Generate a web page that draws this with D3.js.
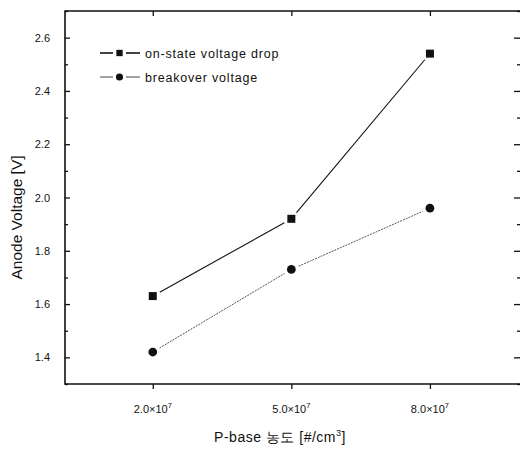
<!DOCTYPE html>
<html>
<head>
<meta charset="utf-8">
<script src="https://cdn.jsdelivr.net/npm/d3@7"></script>
<style>
  body { margin: 0; background: #fff; }
  text { font-family: "Liberation Sans", Arial, sans-serif; fill: #111; }
</style>
</head>
<body>
<div id="chart"></div>
<script>
// data (x in units of 1e7 /cm^3)
const concentrations = [2.0, 5.0, 8.0];
const onStateDrop = [1.63, 1.92, 2.54];
const breakover = [1.42, 1.73, 1.96];
const yTicks = [1.4, 1.6, 1.8, 2.0, 2.2, 2.4, 2.6];
const yMinorTicks = [1.3, 1.5, 1.7, 1.9, 2.1, 2.3, 2.5, 2.7];
const seriesNames = ["on-state voltage drop", "breakover voltage"];

const width = 520, height = 449;
const plotL = 65, plotR = 520, plotT = 11, plotB = 384;

const svg = d3.select("#chart")
    .append("svg")
    .attr("width", width)
    .attr("height", height);

const x = d3.scaleLinear().domain([0.1, 9.95]).range([plotL, plotR]);
const y = d3.scaleLinear().domain([1.3, 2.7]).range([plotB, plotT]);

// frame (right edge falls outside the picture)
svg.append("path")
    .attr("d", `M${plotR},${plotT}H${plotL}V${plotB}H${plotR}`)
    .attr("fill", "none").attr("stroke", "#111").attr("stroke-width", 1.6);

// left axis, ticks inward
svg.append("g").attr("transform", `translate(${plotL},0)`)
    .call(d3.axisRight(y).tickValues(yTicks).tickSize(5).tickFormat(""))
    .select(".domain").remove();
svg.append("g").attr("transform", `translate(${plotL},0)`)
    .call(d3.axisRight(y).tickValues(yMinorTicks).tickSize(3).tickFormat(""))
    .select(".domain").remove();
yTicks.forEach(v => {
    svg.append("text")
        .attr("x", plotL - 15).attr("y", y(v) + 4)
        .attr("text-anchor", "end")
        .attr("font-size", 11)
        .text(v.toFixed(1));
});

// right axis, ticks inward
svg.append("g").attr("transform", `translate(${plotR},0)`)
    .call(d3.axisLeft(y).tickValues(yTicks).tickSize(6).tickFormat(""))
    .select(".domain").remove();
svg.append("g").attr("transform", `translate(${plotR},0)`)
    .call(d3.axisLeft(y).tickValues(yMinorTicks).tickSize(3).tickFormat(""))
    .select(".domain").remove();

// bottom and top axes
svg.append("g").attr("transform", `translate(0,${plotB})`)
    .call(d3.axisBottom(x).tickValues(concentrations).tickSize(5).tickFormat(""))
    .select(".domain").remove();
svg.append("g").attr("transform", `translate(0,${plotT})`)
    .call(d3.axisTop(x).tickValues(concentrations).tickSize(-5).tickFormat(""))
    .select(".domain").remove();
svg.selectAll(".tick line").attr("stroke", "#111").attr("stroke-width", 1.3);

concentrations.forEach(c => {
    const t = svg.append("text")
        .attr("x", x(c)).attr("y", plotB + 29)
        .attr("text-anchor", "middle")
        .attr("font-size", 11);
    t.append("tspan").text(c.toFixed(1) + "\u00d710");
    t.append("tspan").attr("dy", -5).attr("font-size", 7.5).text("7");
});

// axis titles
const xt = svg.append("text")
    .attr("x", 280).attr("y", 442)
    .attr("text-anchor", "middle")
    .attr("font-size", 14)
    .attr("letter-spacing", 0.5);
xt.append("tspan").text("P-base 농도 [#/cm");
xt.append("tspan").attr("dy", -6).attr("font-size", 9).text("3");
xt.append("tspan").attr("dy", 6).text("]");

svg.append("text")
    .attr("transform", `translate(22,${(plotT + plotB) / 2 + 20}) rotate(-90)`)
    .attr("text-anchor", "middle")
    .attr("font-size", 15.5)
    .text("Anode Voltage [V]");

// series
const series = [
    { name: seriesNames[0], values: onStateDrop, dash: null, width: 1.1, color: "#111", shape: d3.symbolSquare },
    { name: seriesNames[1], values: breakover, dash: "2,1", width: 0.9, color: "#444", shape: d3.symbolCircle }
];

const gap = 8;
series.forEach(s => {
    const pts = concentrations.map((c, i) => [x(c), y(s.values[i])]);
    for (let i = 0; i < pts.length - 1; i++) {
        const [x1, y1] = pts[i], [x2, y2] = pts[i + 1];
        const len = Math.hypot(x2 - x1, y2 - y1);
        const ux = (x2 - x1) / len, uy = (y2 - y1) / len;
        svg.append("line")
            .attr("x1", x1 + ux * gap).attr("y1", y1 + uy * gap)
            .attr("x2", x2 - ux * gap).attr("y2", y2 - uy * gap)
            .attr("stroke", s.color).attr("stroke-width", s.width)
            .attr("stroke-dasharray", s.dash);
    }
    svg.selectAll(null).data(pts).enter().append("path")
        .attr("transform", d => `translate(${d[0]},${d[1]})`)
        .attr("d", d3.symbol().type(s.shape).size(s.shape === d3.symbolSquare ? 64 : 60))
        .attr("fill", "#111");
});

// legend
series.forEach((s, i) => {
    const ly = 53 + i * 24;
    svg.append("line").attr("x1", 100).attr("x2", 113).attr("y1", ly).attr("y2", ly)
        .attr("stroke", s.color).attr("stroke-width", i === 0 ? 1.6 : 1);
    svg.append("line").attr("x1", 126).attr("x2", 140).attr("y1", ly).attr("y2", ly)
        .attr("stroke", s.color).attr("stroke-width", i === 0 ? 1.6 : 1);
    svg.append("path")
        .attr("transform", `translate(119.5,${ly})`)
        .attr("d", d3.symbol().type(s.shape).size(40))
        .attr("fill", "#111");
    svg.append("text")
        .attr("x", 145).attr("y", ly + 4.5)
        .attr("font-size", 12.5)
        .attr("letter-spacing", 0.8)
        .text(s.name);
});
</script>
</body>
</html>
